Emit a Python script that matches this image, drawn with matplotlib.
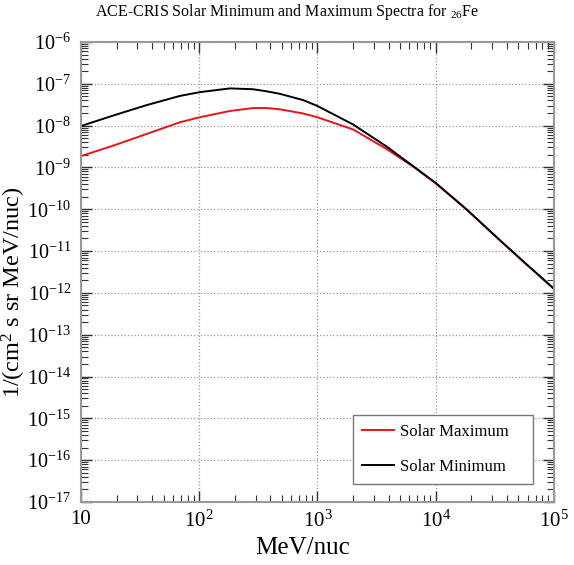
import matplotlib
matplotlib.use("Agg")
import matplotlib.pyplot as plt
from matplotlib.ticker import LogLocator, FuncFormatter, NullFormatter
import numpy as np

plt.rcParams['font.family'] = ['Liberation Serif', 'DejaVu Serif']
plt.rcParams['mathtext.fontset'] = 'custom'
plt.rcParams['mathtext.rm'] = 'Liberation Serif'
plt.rcParams['mathtext.it'] = 'Liberation Serif:italic'

# Energy grid (MeV/nuc)
energy = [10, 18.7, 35.9, 68.7, 101, 182, 286, 372, 482, 759, 1000,
          1995, 3800, 6460, 10000, 18200, 34900, 56200, 100000]

# log10 of flux, 1/(cm^2 s sr MeV/nuc)
log_solar_min = [-8.01, -7.76, -7.51, -7.29, -7.20, -7.11, -7.13, -7.18, -7.24, -7.39, -7.53,
                 -7.97, -8.49, -8.97, -9.37, -10.00, -10.74, -11.27, -11.90]
log_solar_max = [-8.73, -8.48, -8.20, -7.92, -7.80, -7.65, -7.58, -7.58, -7.61, -7.71, -7.80,
                 -8.09, -8.55, -8.98, -9.38, -10.00, -10.74, -11.27, -11.90]

solar_min = 10.0 ** np.array(log_solar_min)
solar_max = 10.0 ** np.array(log_solar_max)

fig = plt.figure(figsize=(5.74, 5.65), dpi=100)
ax = fig.add_axes([0.141, 0.1115, 0.824, 0.8142])

ax.plot(energy, solar_max, color='#e8141a', lw=1.4, label='Solar Maximum')
ax.plot(energy, solar_min, color='black', lw=1.4, label='Solar Minimum')

ax.set_xscale('log')
ax.set_yscale('log')
ax.set_xlim(10, 1e5)
ax.set_ylim(1e-17, 1e-6)


def sci_label(v, pos):
    n = int(round(np.log10(v)))
    if n == 1:
        return '10'
    return r'$10^{%d}$' % n


ax.xaxis.set_major_locator(LogLocator(base=10, numticks=20))
ax.yaxis.set_major_locator(LogLocator(base=10, numticks=20))
ax.xaxis.set_minor_locator(LogLocator(base=10, subs=np.arange(2, 10), numticks=50))
ax.yaxis.set_minor_locator(LogLocator(base=10, subs=np.arange(2, 10), numticks=50))
ax.xaxis.set_major_formatter(FuncFormatter(sci_label))
ax.yaxis.set_major_formatter(FuncFormatter(sci_label))
ax.xaxis.set_minor_formatter(NullFormatter())
ax.yaxis.set_minor_formatter(NullFormatter())

ax.tick_params(which='both', direction='in', top=True, right=True, color='#333333')
ax.tick_params(which='major', length=8, width=1, labelsize=15, pad=6)
ax.tick_params(axis='y', which='major', labelsize=14.5, pad=7)
ax.tick_params(which='minor', length=5, width=0.8)

ax.grid(True, which='major', linestyle=':', color='#999999', lw=0.9)

for sp in ax.spines.values():
    sp.set_color('#999999')
    sp.set_linewidth(1.5)

ax.set_xlabel('MeV/nuc', fontsize=18)
ax.set_ylabel(r'1/(cm$^2$ s sr MeV/nuc)', fontsize=17.5)
ax.xaxis.set_label_coords(0.469, -0.076)
ax.yaxis.set_label_coords(-0.112, 0.457)

fig.text(0.5, 0.979, r'ACE-CRIS Solar Minimum and Maximum Spectra for $_{26}$Fe',
         fontsize=11.5, ha='center', va='center')

leg = ax.legend(loc='lower left', bbox_to_anchor=(0.575, 0.039, 0.3805, 0.15),
                mode='expand', fontsize=12,
                fancybox=False, edgecolor='#777777', framealpha=1,
                handlelength=1.9, labelspacing=1.15, borderpad=0.55,
                handletextpad=0.4, borderaxespad=0)
leg.get_frame().set_linewidth(1.0)

fig.savefig('out.png', dpi=100)
